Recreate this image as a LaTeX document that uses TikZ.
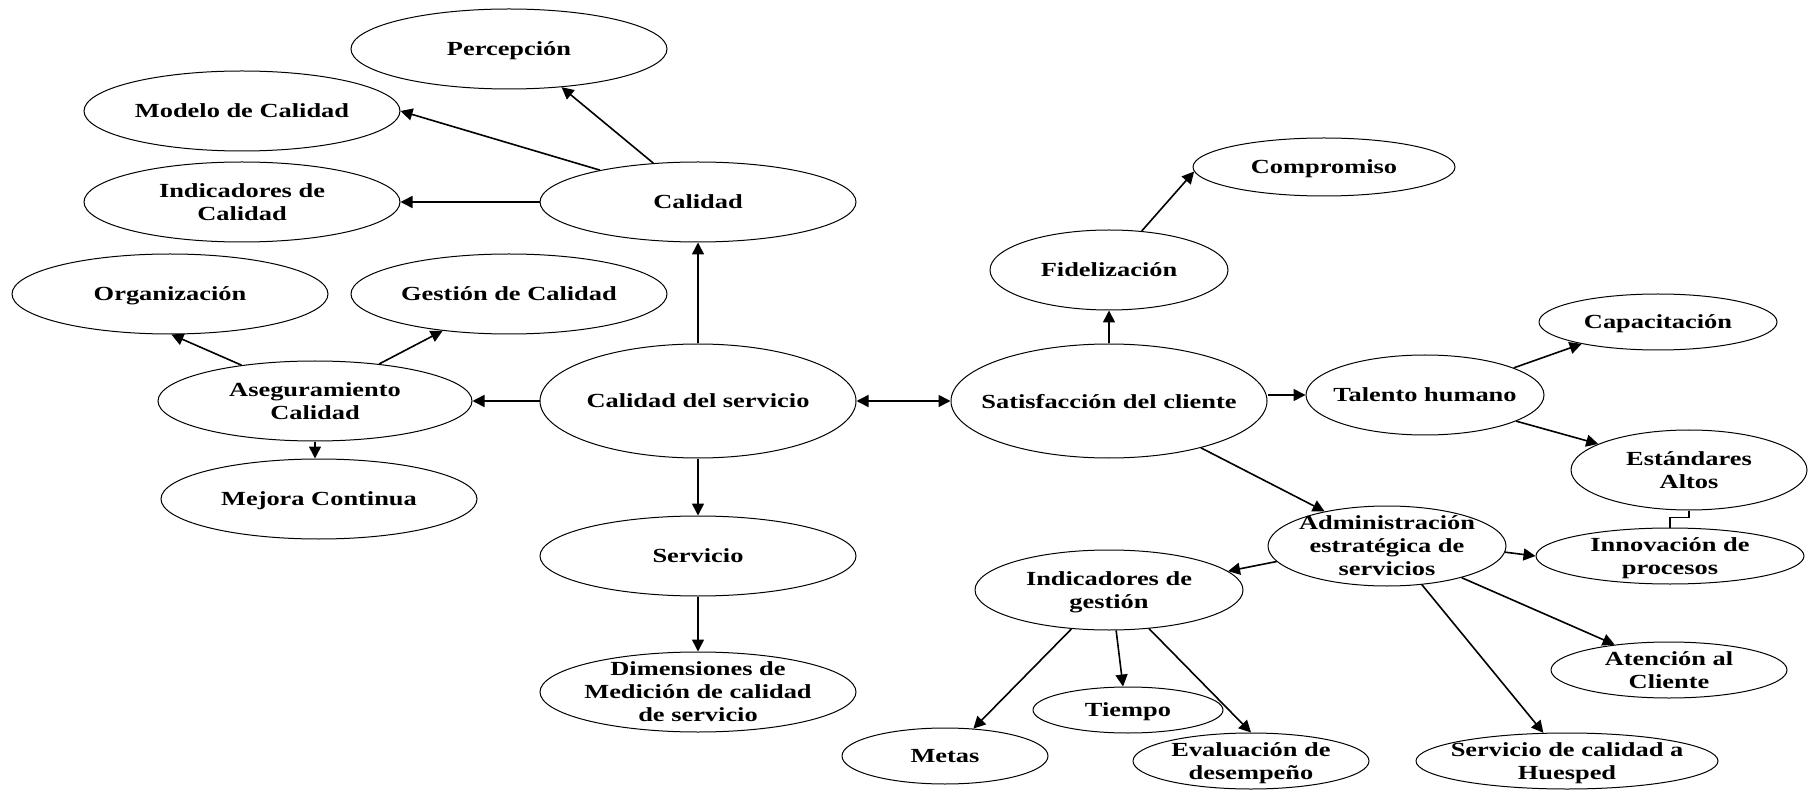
\documentclass[tikz,border=0pt]{standalone}
\usepackage{fontspec}
\setmainfont{Liberation Serif}[FakeStretch=1.32]
\usetikzlibrary{shapes.geometric,arrows.meta}

\begin{document}
\begin{tikzpicture}[x=0.5pt,y=-0.5pt,
  oval/.style={ellipse, draw, line width=0.5pt, inner sep=0pt},
  lbl/.style={font=\bfseries\fontsize{10}{11.5}\selectfont, align=center, inner sep=0pt, text depth=0pt},
  conn/.style={line width=0.8pt, -{Triangle[length=6pt,width=6pt]}},
  both/.style={line width=0.8pt, {Triangle[length=6pt,width=6pt]}-{Triangle[length=6pt,width=6pt]}},
  link/.style={line width=0.6pt}]
\useasboundingbox (0,0) rectangle (1809,796);

% left branch: quality
\node[oval, minimum width=158pt, minimum height=40pt, label={[lbl]center:Percepción}] (per) at (509,49) {};
\node[oval, minimum width=158pt, minimum height=40pt, label={[lbl]center:Modelo de Calidad}] (mod) at (242,111) {};
\node[oval, minimum width=158pt, minimum height=40pt, label={[lbl]center:{Indicadores de\\Calidad}}] (icl) at (242,202) {};
\node[oval, minimum width=158pt, minimum height=40pt, label={[lbl]center:Calidad}] (cal) at (698,202) {};
\node[oval, minimum width=158pt, minimum height=40pt, label={[lbl]center:Organización}] (org) at (170,294) {};
\node[oval, minimum width=158pt, minimum height=40pt, label={[lbl]center:Gestión de Calidad}] (ges) at (509,294) {};
\node[oval, minimum width=157pt, minimum height=40pt, label={[lbl]center:{Aseguramiento\\Calidad}}] (ase) at (315,401) {};
\node[oval, minimum width=158pt, minimum height=57pt, label={[lbl]center:Calidad del servicio}] (cs) at (698,401) {};
\node[oval, minimum width=158pt, minimum height=40pt, label={[lbl]center:Mejora Continua}] (mej) at (319,499) {};
\node[oval, minimum width=158pt, minimum height=40pt, label={[lbl]center:Servicio}] (srv) at (698,556) {};
\node[oval, minimum width=158pt, minimum height=40pt, label={[lbl]center:{Dimensiones de\\Medición de calidad\\de servicio}}] (dim) at (698,692) {};

% right branch: customer satisfaction
\node[oval, minimum width=131pt, minimum height=29pt, label={[lbl]center:Compromiso}] (com) at (1324,167) {};
\node[oval, minimum width=119pt, minimum height=40pt, label={[lbl]center:Fidelización}] (fid) at (1109,270) {};
\node[oval, minimum width=158pt, minimum height=57pt, label={[lbl]center:Satisfacción del cliente}] (sat) at (1109,401) {};
\node[oval, minimum width=119pt, minimum height=40pt, label={[lbl]center:Talento humano}] (tal) at (1425,395) {};
\node[oval, minimum width=119pt, minimum height=28pt, label={[lbl]center:Capacitación}] (cap) at (1658,322) {};
\node[oval, minimum width=118pt, minimum height=40pt, label={[lbl]center:{Estándares\\Altos}}] (est) at (1689,470) {};
\node[oval, minimum width=119pt, minimum height=40pt, label={[lbl]center:{Administración\\estratégica de\\servicios}}] (adm) at (1387,546) {};
\node[oval, minimum width=134pt, minimum height=28pt, label={[lbl]center:{Innovación de\\procesos}}] (inn) at (1670,556) {};
\node[oval, minimum width=134pt, minimum height=40pt, label={[lbl]center:{Indicadores de\\gestión}}] (ig) at (1109,590) {};
\node[oval, minimum width=95pt, minimum height=23pt, label={[lbl]center:Tiempo}] (tie) at (1128,710) {};
\node[oval, minimum width=103pt, minimum height=28pt, label={[lbl]center:Metas}] (met) at (945,756) {};
\node[oval, minimum width=118pt, minimum height=28pt, label={[lbl]center:{Evaluación de\\desempeño}}] (eva) at (1251,761) {};
\node[oval, minimum width=151pt, minimum height=28pt, label={[lbl]center:{Servicio de calidad a\\Huesped}}] (hue) at (1567,761) {};
\node[oval, minimum width=118pt, minimum height=28pt, label={[lbl]center:{Atención al\\Cliente}}] (ate) at (1669,670) {};

% connectors, left side
\draw[conn] (cs.north) -- (cal.south);
\draw[conn] (cal.139.7) -- (per.-36.7);
\draw[conn] (cal.162.6) -- (mod.east);
\draw[conn] (cal.west) -- (icl.east);
\draw[conn] (cs.west) -- (ase.east);
\draw[conn] (ase.154) -- (org.-88);
\draw[conn] (ase.30) -- (ges.-151);
\draw[conn] (ase.south) -- (ase.south |- mej.north);
\draw[conn] (cs.south) -- (srv.north);
\draw[conn] (srv.south) -- (dim.north);
\draw[both] (cs.east) -- (sat.west);

% connectors, right side
\draw[conn] (sat.north) -- (fid.south);
\draw[conn] (fid.50) -- (com.182);
\draw[conn] (tal.west -| sat.east) -- (tal.west);
\draw[conn] (tal.17) -- (cap.-164);
\draw[conn] (tal.-16.4) -- (est.164.5);
\draw[link] (est.south) -- ++(0,7) -| (inn.north);
\draw[conn] (sat.-27.3) -- (adm.151.7);
\draw[conn] (adm.188.6) -- (ig.9.1);
\draw[conn] (adm.-3.5) -- (inn.west);
\draw[conn] (adm.-23.3) -- (ate.155.5);
\draw[conn] (adm.-48.3) -- (hue.130.8);
\draw[conn] (ig.-134.3) -- (met.44);
\draw[conn] (ig.-80) -- (tie.102);
\draw[conn] (ig.-44.3) -- (eva.north);
\end{tikzpicture}
\end{document}
